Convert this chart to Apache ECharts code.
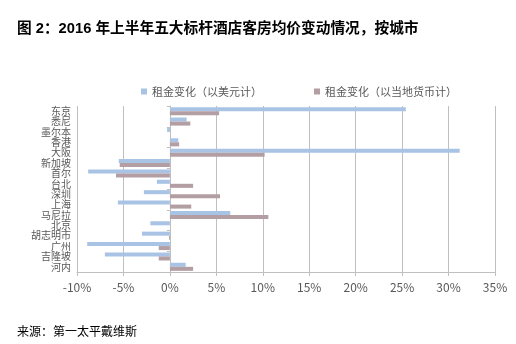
<!DOCTYPE html>
<html><head><meta charset="utf-8">
<script src="https://cdn.jsdelivr.net/npm/echarts@6/dist/echarts.min.js"></script>
<style>html,body{margin:0;padding:0;background:#fff}#c{width:516px;height:344px}</style>
</head><body><div id="c"></div>
<script>
var categories = ['东京','悉尼','墨尔本','香港','大阪','新加坡','首尔','台北','深圳','上海','马尼拉','北京','胡志明市','广州','吉隆坡','河内'];
var usdChange = [25.4, 1.8, -0.3, 0.9, 31.2, -5.5, -8.8, -1.4, -2.8, -5.6, 6.5, -2.1, -3.0, -8.9, -7.0, 1.7];
var localChange = [5.3, 2.2, 0.0, 1.0, 10.2, -5.4, -5.8, 2.5, 5.4, 2.3, 10.6, 0.0, -0.1, -1.2, -1.2, 2.5];
var seriesNames = ['租金变化（以美元计）','租金变化（以当地货币计）'];
var xTicks = {min: -10, max: 35, interval: 5};

var chart = echarts.init(document.getElementById('c'));
var font = '"Noto Sans CJK SC", sans-serif';
chart.setOption({
  animation: false,
  textStyle: {fontFamily: font},
  title: [
    {text: '图 2：2016 年上半年五大标杆酒店客房均价变动情况，按城市', left: 12, top: 17,
     textStyle: {fontSize: 14.7, fontWeight: 'bold', color: '#000', fontFamily: '"Liberation Sans", "Noto Sans CJK SC", sans-serif'}},
    {text: '来源：第一太平戴维斯', left: 12, top: 320,
     textStyle: {fontSize: 12, fontWeight: 'normal', color: '#000', fontFamily: font}}
  ],
  legend: {
    top: 81, left: 136, itemGap: 52, itemWidth: 6, itemHeight: 6, icon: 'rect',
    textStyle: {fontSize: 11, color: '#595959', fontFamily: font},
    data: seriesNames
  },
  grid: {left: 77, right: 21, top: 106, bottom: 72},
  xAxis: {
    type: 'value', min: xTicks.min, max: xTicks.max, interval: xTicks.interval,
    axisLabel: {formatter: '{value}%', color: '#595959', fontSize: 12, margin: 9},
    axisLine: {show: true, lineStyle: {color: '#bfbfbf'}},
    axisTick: {show: true, length: 4, lineStyle: {color: '#bfbfbf'}},
    splitLine: {show: true, lineStyle: {color: '#bfbfbf'}}
  },
  yAxis: [
    {type: 'category', data: categories, inverse: true,
     axisLine: {show: false, onZero: false}, axisTick: {show: false},
     axisLabel: {color: '#595959', fontSize: 10, margin: 6, interval: 0, lineHeight: 10}},
    {type: 'category', data: categories, inverse: true, position: 'left',
     axisLine: {show: true, onZero: true, lineStyle: {color: '#bfbfbf'}},
     axisTick: {show: true, length: 3, lineStyle: {color: '#bfbfbf'}},
     axisLabel: {show: false}}
  ],
  series: [
    {name: seriesNames[0], type: 'bar', data: usdChange, yAxisIndex: 0,
     itemStyle: {color: '#a9c3e5'}, barGap: '0%', barCategoryGap: '22%'},
    {name: seriesNames[1], type: 'bar', data: localChange, yAxisIndex: 0,
     itemStyle: {color: '#b39ea3'}, barGap: '0%', barCategoryGap: '22%'}
  ]
});
</script></body></html>
